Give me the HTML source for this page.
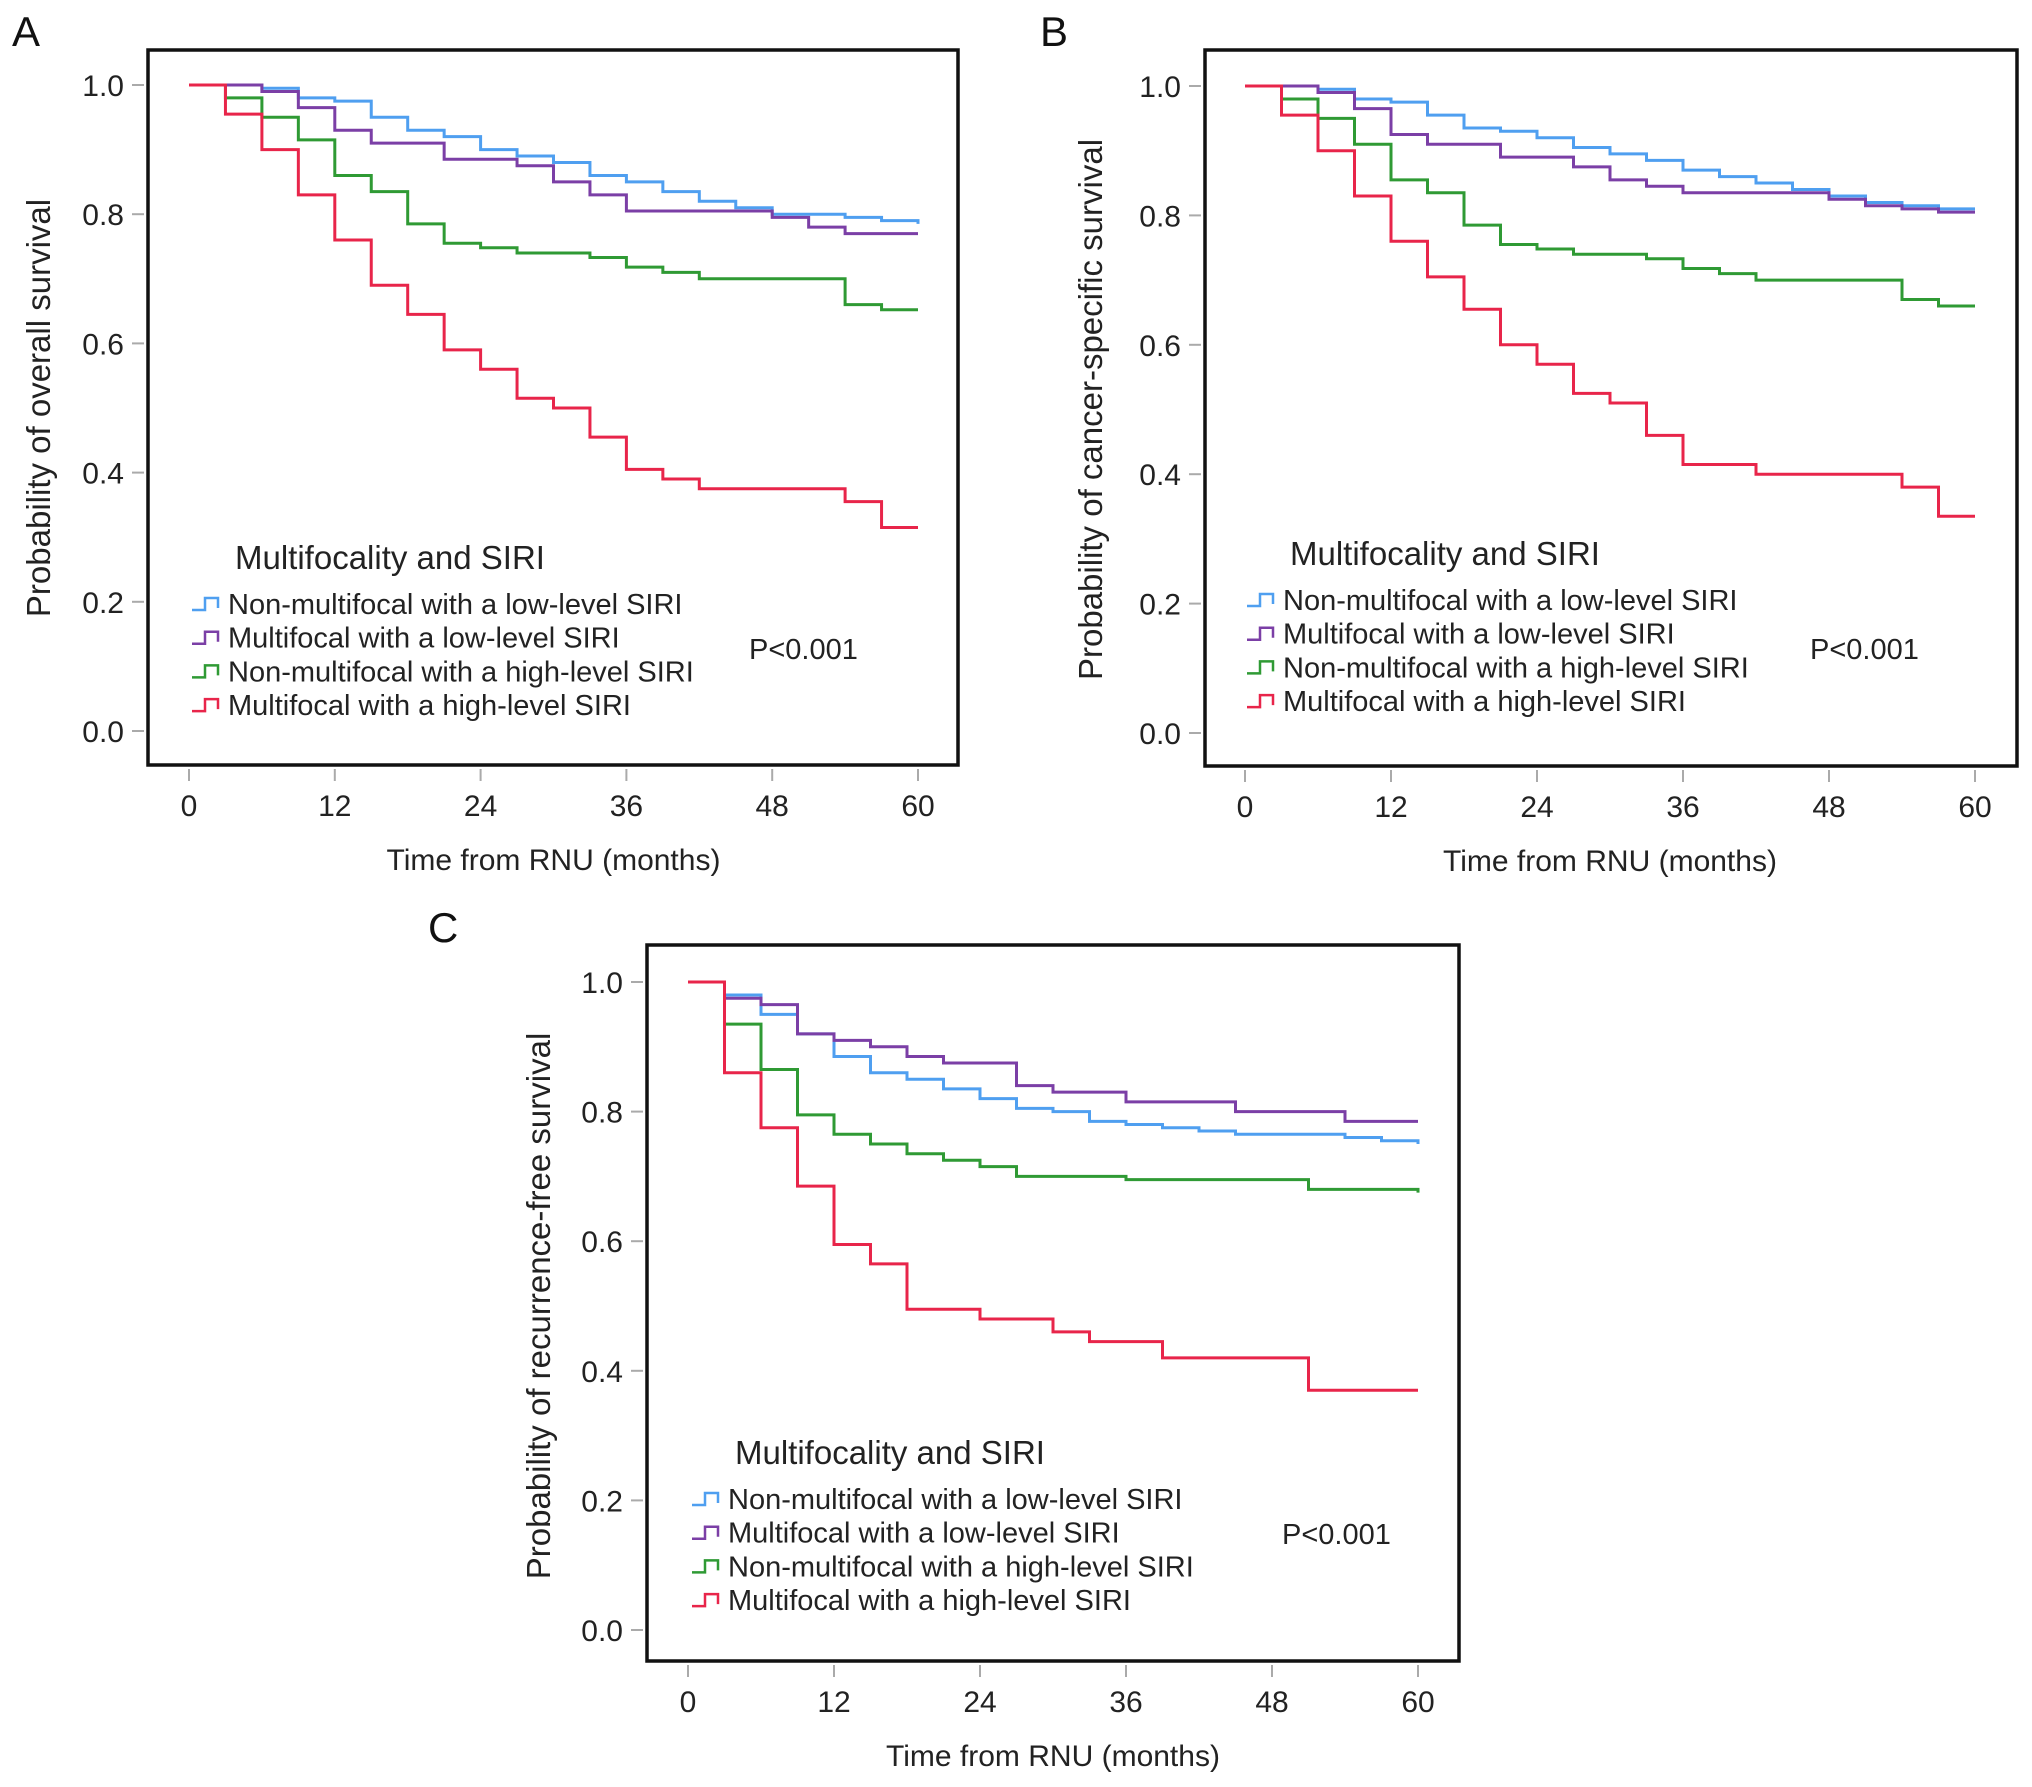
<!DOCTYPE html>
<html><head><meta charset="utf-8">
<style>
html,body{margin:0;padding:0;background:#fff;}
svg{display:block;font-family:"Liberation Sans",Arial,sans-serif;}
</style></head>
<body>
<svg id="fig" width="2032" height="1787" viewBox="0 0 2032 1787" xmlns="http://www.w3.org/2000/svg"></svg>
<script>
// ---- data (months, survival probability) ----
const xTicks = [0, 12, 24, 36, 48, 60];
const yTicks = [0.0, 0.2, 0.4, 0.6, 0.8, 1.0];
const seriesNames = ["Non-multifocal with a low-level SIRI","Multifocal with a low-level SIRI","Non-multifocal with a high-level SIRI","Multifocal with a high-level SIRI"];
const colors = ["#4f9ff0","#7b3fa6","#2f9a34","#e8254a"];

const aBlueT = [0,6,9,12,15,18,21,24,27,30,33,36,39,42,45,48,51,54,57,60];
const aBlueS = [1,.995,.98,.975,.95,.93,.92,.90,.89,.88,.86,.85,.835,.82,.81,.80,.80,.795,.79,.785];
const aPurpleT = [0,6,9,12,15,21,27,30,33,36,48,51,54,60];
const aPurpleS = [1,.99,.965,.93,.91,.885,.875,.85,.83,.805,.795,.78,.77,.77];
const aGreenT = [0,3,6,9,12,15,18,21,24,27,33,36,39,42,54,57,60];
const aGreenS = [1,.98,.95,.915,.86,.835,.785,.755,.748,.74,.733,.718,.71,.70,.66,.652,.652];
const aRedT = [0,3,6,9,12,15,18,21,24,27,30,33,36,39,42,54,57,60];
const aRedS = [1,.955,.90,.83,.76,.69,.645,.59,.56,.515,.50,.455,.405,.39,.375,.355,.315,.315];

const bBlueT = [0,6,9,12,15,18,21,24,27,30,33,36,39,42,45,48,51,54,57,60];
const bBlueS = [1,.995,.98,.975,.955,.935,.93,.92,.905,.895,.885,.87,.86,.85,.84,.83,.82,.815,.81,.81];
const bPurpleT = [0,6,9,12,15,21,27,30,33,36,48,51,54,57,60];
const bPurpleS = [1,.99,.965,.925,.91,.89,.875,.855,.845,.835,.825,.815,.81,.805,.805];
const bGreenT = [0,3,6,9,12,15,18,21,24,27,33,36,39,42,54,57,60];
const bGreenS = [1,.98,.95,.91,.855,.835,.785,.755,.748,.74,.733,.718,.71,.70,.67,.66,.66];
const bRedT = [0,3,6,9,12,15,18,21,24,27,30,33,36,42,54,57,60];
const bRedS = [1,.955,.90,.83,.76,.705,.655,.60,.57,.525,.51,.46,.415,.40,.38,.335,.335];

const cBlueT = [0,3,6,9,12,15,18,21,24,27,30,33,36,39,42,45,54,57,60];
const cBlueS = [1,.98,.95,.92,.885,.86,.85,.835,.82,.805,.80,.785,.78,.775,.77,.765,.76,.755,.75];
const cPurpleT = [0,3,6,9,12,15,18,21,27,30,36,45,54,60];
const cPurpleS = [1,.975,.965,.92,.91,.90,.885,.875,.84,.83,.815,.80,.785,.785];
const cGreenT = [0,3,6,9,12,15,18,21,24,27,36,51,60];
const cGreenS = [1,.935,.865,.795,.765,.75,.735,.725,.715,.70,.695,.68,.675];
const cRedT = [0,3,6,9,12,15,18,24,30,33,39,51,60];
const cRedS = [1,.86,.775,.685,.595,.565,.495,.48,.46,.445,.42,.37,.37];

const NS = "http://www.w3.org/2000/svg";
const svg = document.getElementById("fig");
function mk(tag, attrs, parent){ const e=document.createElementNS(NS,tag); for(const k in attrs) e.setAttribute(k,attrs[k]); (parent||svg).appendChild(e); return e; }

function panel(p){
  const g = mk("g",{});
  
  
  const xs = v => p.x0 + (v/60)*(p.x60-p.x0);
  const ys = v => p.y0 + v*(p.y1-p.y0);
  const letter = mk("text",{x:p.lx,y:p.ly,"font-size":42,fill:"#111"},g); letter.textContent=p.id;
  
  
  const box = mk("rect",{x:p.bx,y:p.by,width:p.bw,height:p.bh,fill:"none",stroke:"#111","stroke-width":3.5},g);
  
  
  const by2 = p.by+p.bh;
  xTicks.forEach(t=>{
    const l = mk("line",{x1:xs(t),x2:xs(t),y1:by2+4,y2:by2+16,stroke:"#aaa","stroke-width":2},g);
    
    
    const tx = mk("text",{x:xs(t),y:by2+51,"font-size":30,"text-anchor":"middle",fill:"#222"},g); tx.textContent=t;
    
    
  });
  yTicks.forEach(t=>{
    const l = mk("line",{x1:p.bx-16,x2:p.bx-4,y1:ys(t),y2:ys(t),stroke:"#aaa","stroke-width":2},g);
    
    
    const tx = mk("text",{x:p.bx-24,y:ys(t)+11,"font-size":30,"text-anchor":"end",fill:"#222"},g); tx.textContent=t.toFixed(1);
    
    
  });
  const xt = mk("text",{x:(p.x0+p.x60)/2,y:by2+105,"font-size":30,"text-anchor":"middle",fill:"#222"},g); xt.textContent="Time from RNU (months)";
  
  
  const yt = mk("text",{x:0,y:0,"font-size":33,"text-anchor":"middle",fill:"#222",transform:`translate(${p.ytx},${(p.y0+p.y1)/2}) rotate(-90)`},g); yt.textContent=p.ytitle;
  
  
  p.series.forEach((s,i)=>{
    const T=s[0], S=s[1];
    let d=`M${xs(T[0])},${ys(S[0])}`;
    for(let k=1;k<T.length;k++){ d+=` H${xs(T[k])} V${ys(S[k])}`; }
    const path = mk("path",{d:d,fill:"none",stroke:colors[i],"stroke-width":3},g);
    
    
  });
  const lt = mk("text",{x:p.legX+43,y:p.legY-35,"font-size":33,fill:"#222"},g); lt.textContent="Multifocality and SIRI";
  
  
  seriesNames.forEach((n,i)=>{
    const yy = p.legY + i*33.7;
    const ic = mk("path",{d:`M${p.legX} ${yy+6} H${p.legX+13} V${yy-6} H${p.legX+26} V${yy+4}`,fill:"none",stroke:colors[i],"stroke-width":2.5},g);
    
    
    const tx = mk("text",{x:p.legX+36,y:yy+10,"font-size":29,fill:"#222"},g); tx.textContent=n;
    
    
  });
  const pv = mk("text",{x:p.px,y:p.py,"font-size":29,fill:"#222"},g); pv.textContent="P<0.001";
  
  
}

panel({id:"A",lx:12,ly:46,bx:148,by:50,bw:810,bh:715,x0:189,x60:918,y0:731,y1:85,ytx:50,
  ytitle:"Probability of overall survival",legX:192,legY:604,px:749,py:659,
  series:[[aBlueT,aBlueS],[aPurpleT,aPurpleS],[aGreenT,aGreenS],[aRedT,aRedS]]});
panel({id:"B",lx:1040,ly:46,bx:1205,by:50,bw:812,bh:716,x0:1245,x60:1975,y0:733,y1:86,ytx:1102,
  ytitle:"Probability of cancer-specific survival",legX:1247,legY:600,px:1810,py:659,
  series:[[bBlueT,bBlueS],[bPurpleT,bPurpleS],[bGreenT,bGreenS],[bRedT,bRedS]]});
panel({id:"C",lx:428,ly:942,bx:647,by:945,bw:812,bh:716,x0:688,x60:1418,y0:1630,y1:982,ytx:550,
  ytitle:"Probability of recurrence-free survival",legX:692,legY:1499,px:1282,py:1544,
  series:[[cBlueT,cBlueS],[cPurpleT,cPurpleS],[cGreenT,cGreenS],[cRedT,cRedS]]});
</script>
</body></html>
